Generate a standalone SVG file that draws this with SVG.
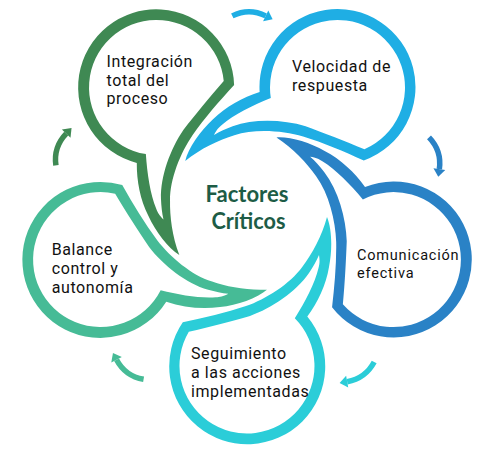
<svg xmlns="http://www.w3.org/2000/svg" xmlns:xlink="http://www.w3.org/1999/xlink" width="480" height="454" viewBox="0 0 480 454">
  <style>
    .lbl { font-family: Roboto, "Open Sans", "DejaVu Sans", sans-serif; font-size: 16px; fill: #111111; letter-spacing: 0.6px; }
    .lbl-s { font-size: 14.5px; letter-spacing: 0.8px; }
    .title { font-family: Lato, "Open Sans", sans-serif; font-weight: bold; font-size: 23px; fill: #1D5C46; }
    .c-green { fill: #3F8953; stroke: #3F8953; }
    .c-sky { fill: #1FAEE4; stroke: #1FAEE4; }
    .c-blue { fill: #2A82C6; stroke: #2A82C6; }
    .c-cyan { fill: #2BCDD8; stroke: #2BCDD8; }
    .c-teal { fill: #46BB96; stroke: #46BB96; }
    .bub { stroke: none; }
  </style>
  <defs>
    <path id="bubble" fill-rule="evenodd" d="M182.8,322.3 C204,318 226,313 246,306.1 C266,299 290,284 302.4,266.7 C312,254 322,236 327,217 C332,229 332.5,250 329,267 C326,285 318,302 307.3,316.5 A78,78 0 1 1 182.8,322.3 Z M188.8,331.7 C210,327 232,321 250,315.9 C272,308 296,292 309,273 C313,267 316.5,261 319,255 C320,261 319.5,264 318.5,268 C315,283 305,302 294.8,318.3 A67.5,67.5 0 1 1 188.8,331.7 Z"/>
    <g id="arrow">
      <path d="M232.3,15.85 A38,38 0 0 1 265.7,15.85" fill="none" stroke-width="5.5"/>
      <polygon points="268.3,10.45 272.6,19.2 263.1,21.2" stroke="none"/>
    </g>
  </defs>
  <rect width="480" height="454" fill="#ffffff"/>

  <g id="connectors">
    <use xlink:href="#arrow" class="c-sky"/>
    <use xlink:href="#arrow" class="c-blue" transform="rotate(72 247 212)"/>
    <use xlink:href="#arrow" class="c-cyan" transform="rotate(144 247 212)"/>
    <use xlink:href="#arrow" class="c-teal" transform="rotate(216 247 212)"/>
    <use xlink:href="#arrow" class="c-green" transform="rotate(288 247 212)"/>
  </g>

  <g id="node-integracion">
    <use xlink:href="#bubble" class="c-green bub" transform="rotate(144 247 212)"/>
    <text class="lbl" x="106.5" y="66.7">Integración</text>
    <text class="lbl" x="106.5" y="85.7">total del</text>
    <text class="lbl" x="106.5" y="104.3">proceso</text>
  </g>

  <g id="node-velocidad">
    <use xlink:href="#bubble" class="c-sky bub" transform="rotate(216 247 212)"/>
    <text class="lbl" x="292" y="71.7">Velocidad de</text>
    <text class="lbl" x="292" y="90.7">respuesta</text>
  </g>

  <g id="node-comunicacion">
    <use xlink:href="#bubble" class="c-blue bub" transform="rotate(288 247 212)"/>
    <text class="lbl lbl-s" x="357" y="260">Comunicación</text>
    <text class="lbl lbl-s" x="357" y="277.5">efectiva</text>
  </g>

  <g id="node-seguimiento">
    <use xlink:href="#bubble" class="c-cyan bub"/>
    <text class="lbl" x="191" y="359.3">Seguimiento</text>
    <text class="lbl" x="191" y="378.3">a las acciones</text>
    <text class="lbl" x="191" y="396.7">implementadas</text>
  </g>

  <g id="node-balance">
    <use xlink:href="#bubble" class="c-teal bub" transform="rotate(72 247 212)"/>
    <text class="lbl" x="51.7" y="255">Balance</text>
    <text class="lbl" x="51.7" y="274.3">control y</text>
    <text class="lbl" x="51.7" y="293.3">autonomía</text>
  </g>

  <g id="node-centro">
    <text class="title" x="247" y="201.7" text-anchor="middle" textLength="83" lengthAdjust="spacingAndGlyphs">Factores</text>
    <text class="title" x="248.5" y="229" text-anchor="middle" textLength="74" lengthAdjust="spacingAndGlyphs">Críticos</text>
  </g>
</svg>
